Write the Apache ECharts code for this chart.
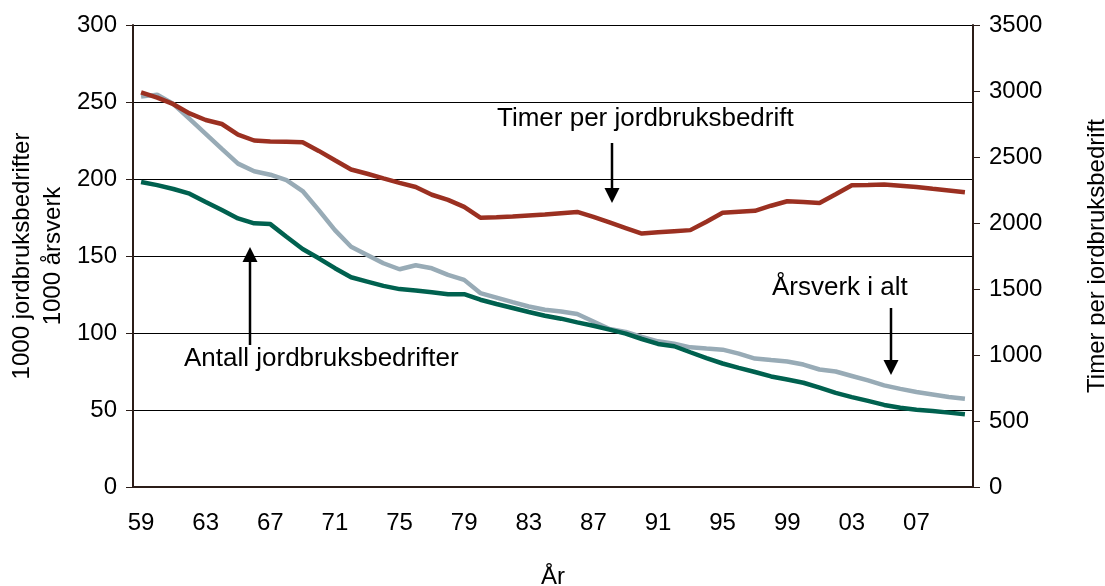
<!DOCTYPE html>
<html>
<head>
<meta charset="utf-8">
<script src="https://cdn.jsdelivr.net/npm/echarts@6/dist/echarts.min.js"></script>
<style>
  html, body { margin: 0; padding: 0; background: #fff; }
  #grafico { width: 1105px; height: 586px; }
</style>
</head>
<body>
<div id="grafico"></div>
<script>
// År 1959-2010
const aar = ['59','60','61','62','63','64','65','66','67','68','69',
  '70','71','72','73','74','75','76','77','78','79',
  '80','81','82','83','84','85','86','87','88','89',
  '90','91','92','93','94','95','96','97','98','99',
  '00','01','02','03','04','05','06','07','08','09','10'];

// Timer per jordbruksbedrift (høyre akse)
const timer = [2990, 2950, 2900, 2830, 2780, 2750, 2670, 2625, 2618, 2615, 2612,
  2546, 2475, 2405, 2373, 2338, 2304, 2273, 2214, 2175, 2122,
  2040, 2044, 2050, 2057, 2064, 2074, 2084, 2046, 2004, 1962,
  1920, 1930, 1938, 1946, 2010, 2077, 2086, 2092, 2131, 2165,
  2159, 2152, 2218, 2286, 2288, 2291, 2283, 2273, 2259, 2246, 2233];

// Årsverk i alt (1000)
const aarsverk = [253.5, 254.8, 248.7, 239, 229.3, 219.6, 210, 205, 202.8, 199.2, 192.2,
  179.8, 166.8, 156, 150.7, 145.3, 141.4, 144, 142, 137.7, 134.5,
  125.9, 123, 120, 117.2, 115.1, 114, 112.3, 107.5, 102.6, 100.7,
  97.4, 94.6, 93.1, 90.7, 89.9, 89.2, 86.6, 83.4, 82.4, 81.5,
  79.5, 76.3, 75, 72.1, 69.2, 66, 63.7, 61.7, 60.1, 58.5, 57.3];

// Antall jordbruksbedrifter (1000)
const bedrifter = [198.1, 196, 193.5, 190.5, 185.1, 179.8, 174.4, 171.2, 170.7, 162.5, 154.5,
  148.5, 142.1, 136.2, 133.4, 130.6, 128.5, 127.6, 126.5, 125.2, 125.2,
  121.6, 118.8, 116.2, 113.6, 111.2, 109.3, 106.9, 104.7, 102.2, 99.6,
  96.1, 92.9, 91.4, 87.5, 83.7, 80.2, 77.4, 74.7, 71.8, 69.8,
  67.7, 64.5, 61.1, 58.4, 55.9, 53.3, 51.5, 50.1, 49.3, 48.3, 47.2];

const fonte = 'Liberation Sans, Arial, sans-serif';
const aksefarge = '#2b1d18';

// pil: strek + trekant
function pil(x, y1, y2) {
  const opp = y2 < y1;
  const h = 15, b = 7.5;
  const base = opp ? y2 + h : y2 - h;
  return [
    { type: 'line', shape: { x1: x, y1: y1, x2: x, y2: base }, style: { stroke: '#000', lineWidth: 2.5 } },
    { type: 'polygon', shape: { points: [[x - b, base], [x + b, base], [x, y2]] }, style: { fill: '#000' } }
  ];
}

function tekst(t, x, y) {
  return { type: 'text', left: x, top: y,
    style: { text: t, fontSize: 26, fontFamily: fonte, fill: '#000' } };
}

document.addEventListener('DOMContentLoaded', function () {
  const chart = echarts.init(document.getElementById('grafico'));

  const opciones = {
    animation: false,
    textStyle: { fontFamily: fonte },
    grid: { left: 133, right: 132, top: 25, bottom: 99, outerBoundsMode: 'none', containLabel: false },
    xAxis: {
      type: 'category',
      data: aar,
      boundaryGap: true,
      name: 'År',
      nameLocation: 'middle',
      nameGap: 78,
      nameTextStyle: { fontSize: 24, color: '#000' },
      axisLine: { lineStyle: { color: aksefarge, width: 2 } },
      axisTick: { interval: 0, length: 6, lineStyle: { color: aksefarge } },
      axisLabel: { interval: 3, margin: 24, fontSize: 24, color: '#000' },
      splitLine: { show: false }
    },
    yAxis: [
      {
        type: 'value',
        min: 0, max: 300, interval: 50,
        name: '1000 jordbruksbedrifter\n1000 årsverk',
        nameLocation: 'middle',
        nameGap: 64,
        nameMoveOverlap: false,
        nameTextStyle: { fontSize: 24, color: '#000', lineHeight: 31 },
        axisLine: { show: true, lineStyle: { color: aksefarge, width: 2 } },
        axisTick: { show: true, length: 7, lineStyle: { color: aksefarge } },
        axisLabel: { margin: 16, fontSize: 24, color: '#000' },
        splitLine: { show: true, lineStyle: { color: '#000', width: 1 } }
      },
      {
        type: 'value',
        min: 0, max: 3500, interval: 500,
        name: 'Timer per jordbruksbedrift',
        nameLocation: 'middle',
        nameGap: 112,
        nameTextStyle: { fontSize: 24, color: '#000' },
        axisLine: { show: true, lineStyle: { color: aksefarge, width: 2 } },
        axisTick: { show: true, length: 7, lineStyle: { color: aksefarge } },
        axisLabel: { margin: 16, fontSize: 24, color: '#000', formatter: function (v) { return String(v); } },
        splitLine: { show: false }
      }
    ],
    series: [
      {
        name: 'Årsverk i alt',
        type: 'line',
        yAxisIndex: 0,
        data: aarsverk,
        symbol: 'none',
        lineStyle: { color: '#98abb6', width: 4.5 }
      },
      {
        name: 'Antall jordbruksbedrifter',
        type: 'line',
        yAxisIndex: 0,
        data: bedrifter,
        symbol: 'none',
        lineStyle: { color: '#00614f', width: 4.5 }
      },
      {
        name: 'Timer per jordbruksbedrift',
        type: 'line',
        yAxisIndex: 1,
        data: timer,
        symbol: 'none',
        lineStyle: { color: '#9b3021', width: 4.5 }
      }
    ],
    graphic: [
      tekst('Timer per jordbruksbedrift', 497, 106),
      tekst('Antall jordbruksbedrifter', 184, 346),
      tekst('Årsverk i alt', 772, 275)
    ].concat(pil(612, 143, 203), pil(250, 345, 247), pil(891, 308, 375))
  };

  chart.setOption(opciones);
});
</script>
</body>
</html>
